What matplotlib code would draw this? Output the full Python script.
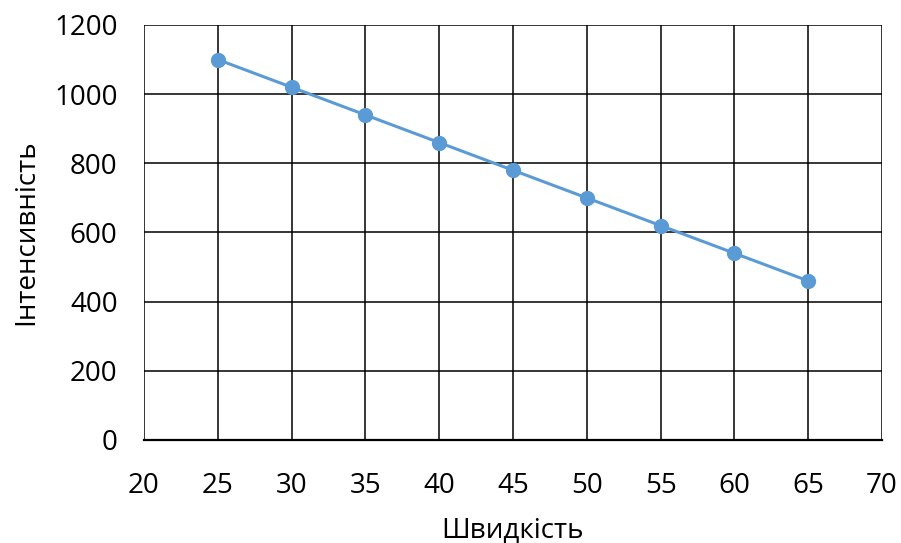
import matplotlib
matplotlib.use('Agg')
import matplotlib.pyplot as plt

plt.rcParams['font.family'] = ['Open Sans', 'DejaVu Sans']

# Швидкість та інтенсивність
shvydkist = [25, 30, 35, 40, 45, 50, 55, 60, 65]
intensyvnist = [1100, 1020, 940, 860, 780, 700, 620, 540, 460]

x_ticks = [20, 25, 30, 35, 40, 45, 50, 55, 60, 65, 70]
y_ticks = [0, 200, 400, 600, 800, 1000, 1200]

fig = plt.figure(figsize=(9.01, 5.43), dpi=100)
ax = fig.add_axes([0.1598, 0.1897, 0.8191, 0.7643])

ax.plot(shvydkist, intensyvnist, color='#5B9BD5', linewidth=2.2,
        marker='o', markersize=10, zorder=3, clip_on=False)

ax.set_xlim(20, 70)
ax.set_ylim(0, 1200)
ax.set_xticks(x_ticks)
ax.set_yticks(y_ticks)
ax.grid(True, color='black', linewidth=1.1)
ax.set_axisbelow(True)

for side in ['top', 'right', 'left']:
    ax.spines[side].set_visible(False)
ax.spines['bottom'].set_color('black')
ax.spines['bottom'].set_linewidth(1.6)

ax.tick_params(length=0, labelsize=20)
ax.tick_params(axis='x', pad=23)
ax.tick_params(axis='y', pad=19)
ax.set_xlabel('Швидкість', fontsize=20, labelpad=12)
ax.set_ylabel('Інтенсивність', fontsize=20, labelpad=10)

fig.savefig('out.png', dpi=100)
